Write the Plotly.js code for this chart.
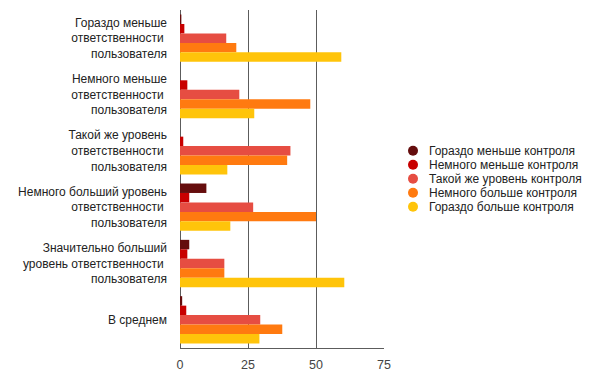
<!DOCTYPE html>
<html><head><meta charset="utf-8">
<script src="https://cdn.plot.ly/plotly-3.0.1.min.js"></script>
<style>body{margin:0;background:#fff}#c{width:594px;height:384px}</style>
</head><body><div id="c"></div>
<script>
const categories = [
  "Гораздо меньше<br>ответственности\u00a0<br>пользователя",
  "Немного меньше<br>ответственности\u00a0<br>пользователя",
  "Такой же уровень<br>ответственности\u00a0<br>пользователя",
  "Немного больший уровень<br>ответственности\u00a0<br>пользователя",
  "Значительно больший<br>уровень ответственности\u00a0<br>пользователя",
  "В среднем"
];
const seriesNames = [
  "Гораздо меньше контроля",
  "Немного меньше контроля",
  "Такой же уровень контроля",
  "Немного больше контроля",
  "Гораздо больше контроля"
];
const muchLess   = [0.5, 0,    0,    9.7, 3.4, 0.8];
const littleLess = [1.6, 2.7,  1.2,  3.4, 2.7, 2.3];
const same       = [17.0, 21.8, 40.6, 26.9, 16.3, 29.5];
const littleMore = [20.7, 47.9, 39.4, 50.0, 16.3, 37.6];
const muchMore   = [59.3, 27.3, 17.4, 18.5, 60.4, 29.2];
const xTicks = [0, 25, 50, 75];

const colors = ["#650d0d", "#c80000", "#e64d42", "#ff7a10", "#ffc40a"];
const values = [muchLess, littleLess, same, littleMore, muchMore];
const FONT = "'Liberation Sans', Arial, sans-serif";

const traces = values.map((v, i) => ({
  type: "bar", orientation: "h", name: seriesNames[i],
  y: categories, x: v, marker: {color: colors[i]}, showlegend: false,
  hoverinfo: "x+name"
}));

const shapes = [], annotations = [];
seriesNames.forEach((n, i) => {
  const cy = 150.7 + i * 14;
  const ypx = (p) => 1 - (p - 10) / 338;
  shapes.push({type: "circle", xref: "paper", yref: "paper",
    x0: (408 - 180) / 204, x1: (418 - 180) / 204,
    y0: ypx(cy + 5), y1: ypx(cy - 5),
    fillcolor: colors[i], line: {width: 0}});
  annotations.push({xref: "paper", yref: "paper", x: (427 - 180) / 204, y: ypx(cy),
    xanchor: "left", yanchor: "middle", showarrow: false, text: n,
    font: {family: FONT, size: 12, color: "#222"}});
});

const layout = {
  width: 594, height: 384,
  margin: {l: 180, r: 210, t: 10, b: 36},
  paper_bgcolor: "#fff", plot_bgcolor: "#fff",
  barmode: "group", bargap: 0.16, bargroupgap: 0,
  showlegend: false,
  font: {family: FONT, size: 12, color: "#222"},
  xaxis: {range: [0, 75], tickvals: xTicks, ticktext: xTicks.map(String),
    showgrid: true, gridcolor: "#5c5c5c", gridwidth: 1,
    zeroline: true, zerolinecolor: "#5c5c5c", zerolinewidth: 1,
    showline: true, linecolor: "#5c5c5c", linewidth: 1,
    ticks: "", ticklabelstandoff: 5, tickfont: {family: FONT, size: 12.5, color: "#444"}, fixedrange: true},
  yaxis: {type: "category", autorange: "reversed", showgrid: false,
    ticks: "", ticklabelstandoff: 12, tickfont: {family: FONT, size: 12, color: "#222"},
    showline: false, fixedrange: true},
  shapes: shapes, annotations: annotations
};
Plotly.newPlot("c", traces, layout, {displayModeBar: false, staticPlot: true});
</script></body></html>
